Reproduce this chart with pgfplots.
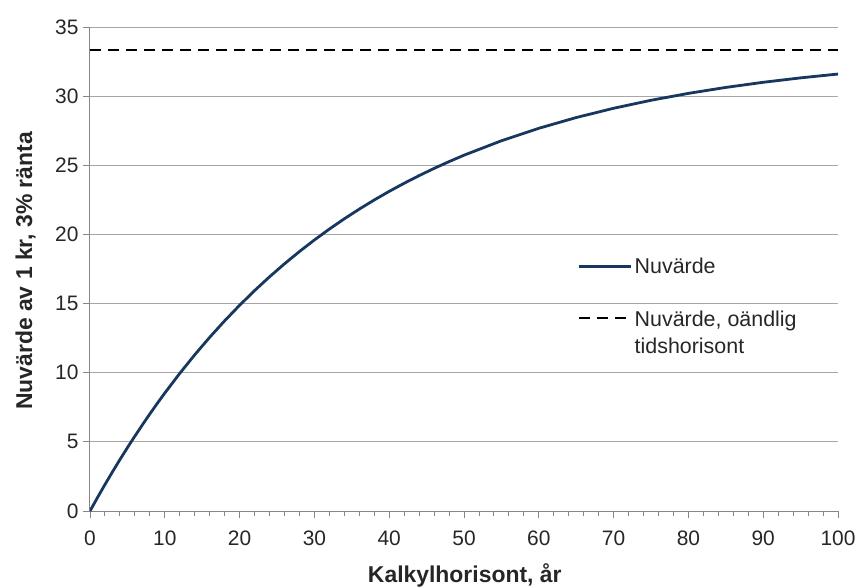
\documentclass[border=0pt]{standalone}
\usepackage{fontspec}
\setmainfont{Liberation Sans}
\usepackage{pgfplots}
\pgfplotsset{compat=1.18}
\definecolor{navy}{HTML}{17375E}
\definecolor{gridgray}{HTML}{A6A6A6}
\definecolor{axgray}{HTML}{868686}
\definecolor{txt}{HTML}{262626}
\begin{document}
\begin{tikzpicture}
\begin{axis}[
  scale only axis,
  width=748bp, height=484bp,
  xmin=0, xmax=100, ymin=0, ymax=35,
  axis x line*=bottom, axis y line*=left,
  axis line style={draw=axgray, line width=1bp},
  xtick={0,10,...,100}, ytick={0,5,...,35},
  minor x tick num=4,
  tick align=outside,
  major tick length=7bp, minor tick length=5bp,
  tick style={draw=axgray, line width=0.9bp},
  ymajorgrids, grid style={draw=gridgray, line width=1bp},
  /pgf/number format/assume math mode=true,
  ticklabel style={font=\fontsize{21}{22}\selectfont, text=txt},
  xticklabel style={yshift=-9bp},
  yticklabel style={xshift=-1bp},
  label style={font=\bfseries\fontsize{23}{25}\selectfont, text=txt},
  xlabel={Kalkylhorisont, år},
  ylabel={Nuvärde av 1 kr, 3\% ränta},
  xlabel style={at={(rel axis cs:0.501,-0.1467)}, anchor=base},
  ylabel style={at={(rel axis cs:-0.0775,0.496)}, anchor=base, rotate=0},
  legend cell align=left,
  legend style={draw=none, fill=none, at={(0.648,0.532)}, anchor=north west,
    font=\fontsize{21.5}{27}\selectfont, text=txt, row sep=29bp},
  legend image code/.code={\draw[#1] (0bp,0bp) -- (52bp,0bp);},
]
\addplot[navy, line width=2.8bp] coordinates {
(0,0) (1,0.9709) (2,1.9135) (3,2.8286) (4,3.7171) (5,4.5797) (6,5.4172)
(7,6.2303) (8,7.0197) (9,7.7861) (10,8.5302) (12,9.9540) (14,11.2961)
(16,12.5611) (18,13.7535) (20,14.8775) (22,15.9369) (24,16.9355)
(26,17.8768) (28,18.7641) (30,19.6004) (32,20.3888) (34,21.1318)
(36,21.8323) (38,22.4925) (40,23.1148) (42,23.7014) (44,24.2543)
(46,24.7754) (48,25.2667) (50,25.7298) (55,26.7744) (60,27.6756)
(65,28.4529) (70,29.1234) (75,29.7018) (80,30.2008) (85,30.6312)
(90,31.0024) (95,31.3227) (100,31.5989)};
\addlegendentry{Nuvärde}
\addplot[black, line width=2.2bp, dash pattern=on 11bp off 7bp] coordinates {(0,33.3333) (100,33.3333)};
\addlegendentry{\begin{tabular}[t]{@{}l@{}}Nuvärde, oändlig\\tidshorisont\end{tabular}}
\coordinate (bl) at (rel axis cs:-0.1203,-0.155);
\coordinate (tr) at (rel axis cs:1.0307,1.0558);
\end{axis}
\pgfresetboundingbox
\useasboundingbox (bl) rectangle (tr);
\end{tikzpicture}
\end{document}
